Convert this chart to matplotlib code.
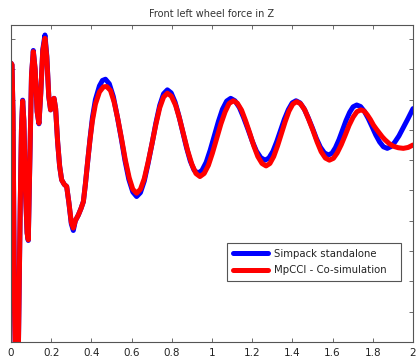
import matplotlib
matplotlib.use("Agg")
import matplotlib.pyplot as plt

# --- data (y in arbitrary force units, no labels shown) ---
t_simpack = [0.0, 0.005, 0.010, 0.014, 0.018, 0.022, 0.030, 0.036, 0.040, 0.046,
             0.052, 0.058, 0.064, 0.072, 0.080, 0.086, 0.094, 0.102, 0.111, 0.120,
             0.130, 0.139, 0.148, 0.158, 0.169, 0.178, 0.188, 0.197, 0.205, 0.214,
             0.222, 0.232, 0.242, 0.252, 0.265, 0.277, 0.288, 0.300, 0.310, 0.320,
             0.335, 0.348, 0.360, 0.370, 0.382, 0.393, 0.405, 0.420, 0.440, 0.455,
             0.470, 0.489, 0.509, 0.528, 0.548, 0.567, 0.586, 0.606,
             0.625, 0.644, 0.663, 0.682, 0.702, 0.721, 0.740, 0.759,
             0.778, 0.797, 0.816, 0.835, 0.854, 0.873, 0.892, 0.911,
             0.930, 0.950, 0.971, 0.991, 1.012, 1.032, 1.052, 1.073,
             1.093, 1.114, 1.136, 1.157, 1.179, 1.200, 1.221, 1.243,
             1.264, 1.283, 1.303, 1.322, 1.341, 1.360, 1.380, 1.399,
             1.418, 1.438, 1.458, 1.478, 1.499, 1.519, 1.539, 1.559,
             1.579, 1.597, 1.614, 1.632, 1.650, 1.667, 1.685, 1.702,
             1.720, 1.739, 1.758, 1.777, 1.796, 1.815, 1.834, 1.853,
             1.872, 1.891, 1.910, 1.930, 1.950, 1.975, 2.0]
f_simpack = [9.2, 9.15, 7.5, 4.0, 1.0, -0.6, -1.0, -0.6, 1.5, 4.5,
             7.0, 7.98, 7.3, 5.0, 3.6, 3.35, 6.0, 8.8, 9.62, 9.0,
             7.6, 7.2, 8.2, 9.65, 10.13, 9.45, 8.1, 7.66, 7.9, 8.04,
             7.7, 6.6, 5.8, 5.35, 5.2, 5.13, 4.6, 3.9, 3.68, 4.0,
             4.19, 4.4, 4.63, 5.2, 6.0, 6.7, 7.4, 8.0, 8.45, 8.63,
             8.67, 8.52, 8.10, 7.47, 6.74, 5.99, 5.37, 4.95,
             4.80, 4.93, 5.31, 5.89, 6.56, 7.23, 7.81, 8.19,
             8.32, 8.22, 7.92, 7.47, 6.95, 6.42, 5.97, 5.67,
             5.57, 5.66, 5.93, 6.33, 6.81, 7.28, 7.68, 7.95,
             8.04, 7.96, 7.74, 7.41, 7.02, 6.63, 6.30, 6.08,
             6.00, 6.07, 6.29, 6.61, 6.98, 7.35, 7.67, 7.89,
             7.96, 7.89, 7.70, 7.41, 7.07, 6.72, 6.43, 6.24,
             6.17, 6.23, 6.41, 6.68, 7.00, 7.31, 7.58, 7.76,
             7.82, 7.77, 7.61, 7.38, 7.11, 6.83, 6.60, 6.44,
             6.39, 6.45, 6.60, 6.80, 7.05, 7.37, 7.70]

t_mpcci = [0.0, 0.005, 0.010, 0.014, 0.018, 0.022, 0.030, 0.036, 0.040, 0.046,
           0.052, 0.058, 0.064, 0.072, 0.080, 0.086, 0.094, 0.102, 0.111, 0.120,
           0.130, 0.139, 0.148, 0.158, 0.169, 0.178, 0.188, 0.197, 0.205, 0.214,
           0.222, 0.232, 0.242, 0.252, 0.265, 0.277, 0.288, 0.300, 0.310, 0.320,
           0.335, 0.348, 0.360, 0.370, 0.382, 0.393, 0.405, 0.420, 0.440, 0.460,
           0.476, 0.495, 0.513, 0.532, 0.551, 0.569, 0.588, 0.606,
           0.625, 0.644, 0.663, 0.682, 0.702, 0.721, 0.740, 0.759,
           0.778, 0.798, 0.819, 0.839, 0.859, 0.879, 0.900, 0.920,
           0.940, 0.961, 0.982, 1.002, 1.023, 1.044, 1.065, 1.085,
           1.106, 1.126, 1.147, 1.167, 1.188, 1.208, 1.228, 1.249,
           1.269, 1.288, 1.307, 1.326, 1.345, 1.364, 1.383, 1.402,
           1.421, 1.441, 1.462, 1.482, 1.503, 1.523, 1.543, 1.564,
           1.584, 1.604, 1.623, 1.643, 1.663, 1.682, 1.702, 1.721,
           1.741, 1.757, 1.772, 1.788, 1.803, 1.818, 1.833, 1.847,
           1.861, 1.881, 1.902, 1.927, 1.952, 1.976, 2.0]
f_mpcci = [9.2, 9.15, 7.5, 4.0, 1.0, -0.6, -1.0, -0.6, 1.5, 4.5,
           7.0, 7.95, 7.3, 5.0, 3.6, 3.37, 6.0, 8.8, 9.58, 9.0,
           7.6, 7.22, 8.2, 9.6, 10.02, 9.4, 8.1, 7.66, 7.9, 8.04,
           7.7, 6.6, 5.8, 5.35, 5.2, 5.13, 4.6, 3.95, 3.76, 4.0,
           4.19, 4.4, 4.63, 5.2, 6.0, 6.67, 7.3, 7.85, 8.25, 8.42,
           8.43, 8.30, 7.92, 7.34, 6.67, 6.00, 5.42, 5.04,
           4.91, 5.04, 5.39, 5.93, 6.56, 7.19, 7.73, 8.08,
           8.21, 8.11, 7.81, 7.36, 6.84, 6.31, 5.86, 5.56,
           5.46, 5.56, 5.83, 6.23, 6.71, 7.19, 7.59, 7.87,
           7.96, 7.88, 7.65, 7.30, 6.89, 6.47, 6.12, 5.89,
           5.81, 5.89, 6.12, 6.47, 6.87, 7.27, 7.62, 7.85,
           7.93, 7.86, 7.65, 7.33, 6.97, 6.60, 6.28, 6.07,
           6.00, 6.06, 6.24, 6.51, 6.83, 7.15, 7.42, 7.60,
           7.66, 7.62, 7.50, 7.34, 7.16, 7.02, 6.89, 6.77,
           6.67, 6.55, 6.46, 6.41, 6.39, 6.42, 6.50]

x_ticks = [0, 0.2, 0.4, 0.6, 0.8, 1.0, 1.2, 1.4, 1.6, 1.8, 2.0]
x_ticklabels = ['0', '0.2', '0.4', '0.6', '0.8', '1', '1.2', '1.4', '1.6', '1.8', '2']
y_ticks = [0, 1, 2, 3, 4, 5, 6, 7, 8, 9, 10]

# --- figure ---
fig = plt.figure(figsize=(4.17, 3.63), dpi=100)
ax = fig.add_axes([11/417, 1 - 342/363, 402/417, 317/363])

ax.plot(t_simpack, f_simpack, color='#0000ff', lw=3.6, label='Simpack standalone',
        solid_joinstyle='round', solid_capstyle='round')
ax.plot(t_mpcci, f_mpcci, color='#ff0000', lw=3.6, label='MpCCI - Co-simulation',
        solid_joinstyle='round', solid_capstyle='round')

ax.set_xlim(0, 2)
ax.set_ylim(0, 10.46)
ax.set_xticks(x_ticks)
ax.set_xticklabels(x_ticklabels)
ax.set_yticks(y_ticks)
ax.set_yticklabels([])
ax.tick_params(direction='in', length=3, width=0.6, color='#555555',
               top=True, right=True, labelsize=7.5, labelcolor='#222222', pad=4)
for s in ax.spines.values():
    s.set_color('#555555')
    s.set_linewidth(0.8)

ax.set_title('Front left wheel force in Z', fontsize=7, color='#333333', pad=6)

# legend box stretched to the width seen in the reference
leg = ax.legend(loc='lower left', bbox_to_anchor=(0.537, 0.192, 0.433, 0.12),
                mode='expand', borderaxespad=0,
                fontsize=7.3, fancybox=False, framealpha=1, edgecolor='#555555',
                handlelength=3.5, handletextpad=0.5, borderpad=0.6, labelspacing=0.6)
leg.get_frame().set_linewidth(0.8)
for txt in leg.get_texts():
    txt.set_color('#222222')

fig.savefig('out.png', dpi=100)
